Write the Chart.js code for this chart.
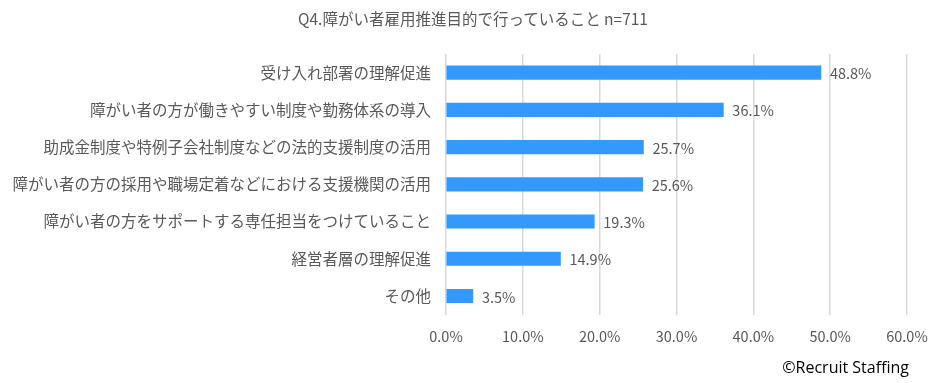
<!DOCTYPE html>
<html lang="ja">
<head>
    <meta charset="UTF-8">
    <title>Q4 障がい者雇用推進目的</title>
    <style>
        body {
            margin: 0;
            background: #ffffff;
        }

        #wrap {
            position: relative;
            width: 936px;
            height: 383px;
        }

        /* title sits a little right of centre in the original, so it is placed by hand */
        #title {
            position: absolute;
            left: 0;
            width: 946px;
            top: 8px;
            line-height: 20px;
            text-align: center;
            font-family: 'Noto Sans CJK JP', sans-serif;
            font-size: 15.5px;
            color: #595959;
        }

        #credit {
            position: absolute;
            right: 27px;
            top: 356px;
            font-family: 'Open Sans', sans-serif;
            font-size: 16px;
            color: #000000;
        }
    </style>
</head>
<body>
    <div id="wrap">
        <canvas id="chart" width="936" height="383"></canvas>
        <div id="title"></div>
        <div id="credit">©Recruit Staffing</div>
    </div>

    <script src="https://cdn.jsdelivr.net/npm/chart.js"></script>
    <script>
        const categories = [
            '受け入れ部署の理解促進',
            '障がい者の方が働きやすい制度や勤務体系の導入',
            '助成金制度や特例子会社制度などの法的支援制度の活用',
            '障がい者の方の採用や職場定着などにおける支援機関の活用',
            '障がい者の方をサポートする専任担当をつけていること',
            '経営者層の理解促進',
            'その他'
        ];
        const values = [48.8, 36.1, 25.7, 25.6, 19.3, 14.9, 3.5];
        const titleText = 'Q4.障がい者雇用推進目的で行っていること n=711';

        const jpFont = "'Noto Sans CJK JP', 'Noto Sans', sans-serif";

        document.getElementById('title').textContent = titleText;

        // value labels at bar ends
        const barLabels = {
            id: 'barLabels',
            afterDatasetsDraw(chart) {
                const ctx = chart.ctx;
                const meta = chart.getDatasetMeta(0);
                ctx.save();
                ctx.font = '14.5px ' + jpFont;
                ctx.fillStyle = '#595959';
                ctx.textBaseline = 'middle';
                ctx.textAlign = 'left';
                meta.data.forEach((bar, i) => {
                    ctx.fillText(values[i].toFixed(1) + '%', bar.x + 9, bar.y + 1);
                });
                ctx.restore();
            }
        };

        new Chart(document.getElementById('chart'), {
            type: 'bar',
            data: {
                labels: categories,
                datasets: [{
                    data: values,
                    backgroundColor: '#3399ff',
                    barThickness: 13.5
                }]
            },
            plugins: [barLabels],
            options: {
                indexAxis: 'y',
                responsive: false,
                animation: false,
                layout: {
                    padding: { left: 0, right: 29, top: 54, bottom: 25 }
                },
                plugins: {
                    legend: { display: false },
                    tooltip: { enabled: false },
                    title: { display: false }
                },
                scales: {
                    x: {
                        min: 0,
                        max: 60,
                        afterFit(scale) {
                            scale.paddingRight = 0;
                        },
                        ticks: {
                            stepSize: 10,
                            color: '#595959',
                            font: { family: jpFont, size: 14.5 },
                            padding: 13,
                            callback: v => v.toFixed(1) + '%'
                        },
                        grid: {
                            color: '#d9d9d9',
                            lineWidth: 1.5,
                            drawTicks: false
                        },
                        border: { display: false }
                    },
                    y: {
                        afterFit(scale) {
                            scale.width = 446;
                        },
                        ticks: {
                            color: '#595959',
                            font: { family: jpFont, size: 15.5 },
                            padding: 15
                        },
                        grid: { display: false, drawTicks: false },
                        border: { display: false }
                    }
                }
            }
        });
    </script>
</body>
</html>
